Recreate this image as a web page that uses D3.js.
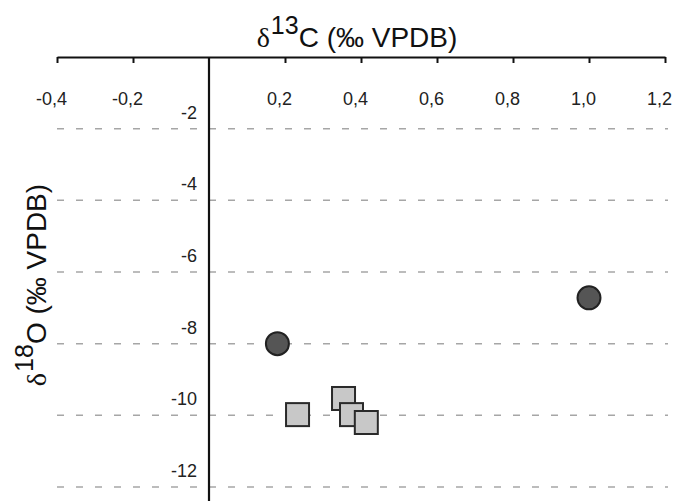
<!DOCTYPE html>
<head>
    <meta charset="utf-8">
    <script src="https://cdnjs.cloudflare.com/ajax/libs/d3/7.8.5/d3.min.js" charset="utf-8"></script>
    <style>
        html, body {
            margin: 0px;
            padding: 0px;
            background: #fff;
        }
        svg {
            display: block;
            font-family: "Liberation Sans", Arial, sans-serif;
        }
    </style>
</head>

<body>

<svg id="chart" width="674" height="501"></svg>

<script>
// samples
var circlesC = [1.0, 0.18],
    circlesO = [-6.72, -8.0];
var squaresC = [0.233, 0.354, 0.375, 0.414],
    squaresO = [-9.98, -9.53, -9.98, -10.2];

var xTicks = [-0.4, -0.2, 0.2, 0.4, 0.6, 0.8, 1.0, 1.2],
    yTicks = [-2, -4, -6, -8, -10, -12];

var svg = d3.select('#chart');

var x = d3.scaleLinear().domain([-0.4, 1.2]).range([57, 665]),
    y = d3.scaleLinear().domain([0, -12]).range([57, 487]);

var loc = d3.formatLocale({decimal: ",", thousands: ".", grouping: [3], currency: ["", ""], minus: "-"});
var fmtX = loc.format(".1f");

// dashed horizontal grid, full width
svg.append('g').selectAll('line')
    .data(yTicks)
    .join('line')
    .attr('x1', 57)
    .attr('x2', 668)
    .attr('y1', d => y(d))
    .attr('y2', d => y(d))
    .style('stroke', '#a6a6a6')
    .style('stroke-width', 1.5)
    .style('stroke-dasharray', '7,12');

// top (x) axis, ticks point down, labels under them
var xAxis = d3.axisBottom(x)
    .tickValues(xTicks)
    .tickFormat(fmtX)
    .tickSize(6)
    .tickSizeOuter(0)
    .tickPadding(29);

var gx = svg.append('g')
    .attr('transform', 'translate(0,' + y(0) + ')')
    .call(xAxis);
gx.select('.domain').style('stroke', '#111').style('stroke-width', 2.2);
gx.selectAll('.tick line').style('stroke', '#111').style('stroke-width', 2);
gx.selectAll('.tick text')
    .attr('dx', -6)
    .style('font-size', '18px')
    .style('fill', '#222')
    .style('font-family', '"Liberation Sans", Arial, sans-serif');

// y labels sit left of the vertical axis, above their grid line
var yAxis = d3.axisLeft(y)
    .tickValues(yTicks)
    .tickFormat(loc.format("d"))
    .tickSize(0)
    .tickPadding(12);

var gy = svg.append('g')
    .attr('transform', 'translate(' + x(0) + ',0)')
    .call(yAxis);
gy.select('.domain').remove();
gy.selectAll('.tick text')
    .attr('dy', '-0.58em')
    .style('font-size', '18px')
    .style('fill', '#222')
    .style('font-family', '"Liberation Sans", Arial, sans-serif');

// vertical axis at C = 0
svg.append('line')
    .attr('x1', x(0))
    .attr('x2', x(0))
    .attr('y1', y(0))
    .attr('y2', 501)
    .style('stroke', '#111')
    .style('stroke-width', 2.2);

// markers
var sq = 23;
svg.append('g').selectAll('rect')
    .data(squaresC)
    .join('rect')
    .attr('x', (d, i) => x(d) - sq / 2)
    .attr('y', (d, i) => y(squaresO[i]) - sq / 2)
    .attr('width', sq)
    .attr('height', sq)
    .style('fill', '#c8c8c8')
    .style('stroke', '#2a2a2a')
    .style('stroke-width', 2);

svg.append('g').selectAll('circle')
    .data(circlesC)
    .join('circle')
    .attr('cx', d => x(d))
    .attr('cy', (d, i) => y(circlesO[i]))
    .attr('r', 11.5)
    .style('fill', '#555')
    .style('stroke', '#222')
    .style('stroke-width', 2);

// axis titles
var title = svg.append('text')
    .attr('x', 357)
    .attr('y', 47)
    .attr('text-anchor', 'middle')
    .style('font-size', '28px')
    .style('fill', '#111');
title.append('tspan').text('δ')
    .style('font-family', '"Liberation Serif", "DejaVu Serif", serif')
    .style('font-size', '28px');
title.append('tspan').text('13').attr('dy', -13).attr('dx', 1).style('font-size', '25px');
title.append('tspan').text('C (‰ VPDB)').attr('dy', 13);

var ylab = svg.append('text')
    .attr('transform', 'translate(46,285) rotate(-90)')
    .attr('text-anchor', 'middle')
    .style('font-size', '28px')
    .style('fill', '#111');
ylab.append('tspan').text('δ')
    .style('font-family', '"Liberation Serif", "DejaVu Serif", serif')
    .style('font-size', '28px');
ylab.append('tspan').text('18').attr('dy', -13).attr('dx', 1).style('font-size', '25px');
ylab.append('tspan').text('O (‰ VPDB)').attr('dy', 13);
</script>

</body>
</html>
